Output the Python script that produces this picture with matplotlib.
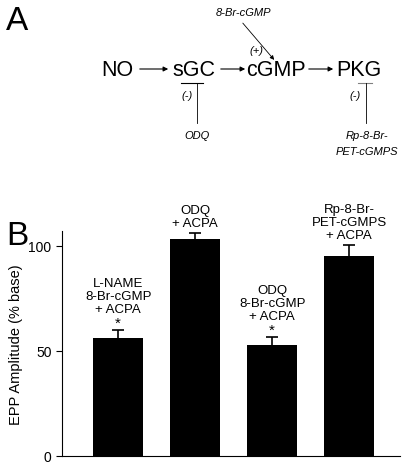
import matplotlib
matplotlib.use("Agg")
import matplotlib.pyplot as plt

plt.rcParams['font.family'] = ['Liberation Sans', 'DejaVu Sans']

labels = ["L-NAME\n8-Br-cGMP\n+ ACPA", "ODQ\n+ ACPA", "ODQ\n8-Br-cGMP\n+ ACPA", "Rp-8-Br-\nPET-cGMPS\n+ ACPA"]
values = [56, 103, 53, 95]
errors = [4, 3, 3.5, 5.5]
stars = [True, False, True, False]
yticks = [0, 50, 100]

fig = plt.figure(figsize=(4.13, 4.64), dpi=100)
ax = fig.add_axes([62/413, 7/464, 338/413, 225/464])
x = [1, 2, 3, 4]
ax.bar(x, values, width=0.65, color='black', yerr=errors,
       error_kw=dict(ecolor='black', elinewidth=1.2, capsize=4, capthick=1.2))
ax.set_xlim(0.27, 0.27 + 338/77)
ax.set_ylim(0, 107)
ax.set_yticks(yticks)
ax.tick_params(axis='y', labelsize=10, length=4)
ax.set_xticks([])
ax.spines['top'].set_visible(False)
ax.spines['right'].set_visible(False)
ax.set_ylabel("EPP Amplitude (% base)", fontsize=10.5)
for xi, v, e, lab, s in zip(x, values, errors, labels, stars):
    off = 3
    if s:
        ax.annotate("*", (xi, v + e), xytext=(0, 0), textcoords='offset points',
                    ha='center', va='bottom', fontsize=11)
        off = 11
    ax.annotate(lab, (xi, v + e), xytext=(0, off), textcoords='offset points',
                ha='center', va='bottom', fontsize=9.5, linespacing=1.1,
                annotation_clip=False)

# diagram overlay in pixel coords
d = fig.add_axes([0, 0, 1, 1], facecolor='none')
d.set_xlim(0, 413); d.set_ylim(464, 0); d.axis('off')
d.text(6, 22, "A", fontsize=24, va='center', ha='left')
d.text(6, 237, "B", fontsize=24, va='center', ha='left')
for t, cx in [("NO", 117), ("sGC", 194), ("cGMP", 276), ("PKG", 359)]:
    d.text(cx, 70, t, fontsize=15.5, ha='center', va='center')
for x0, x1 in [(137, 171), (218, 248), (306, 336)]:
    d.annotate("", (x1, 70), (x0, 70),
               arrowprops=dict(arrowstyle='-|>', color='black', lw=0.8, mutation_scale=7))
d.text(243, 13, "8-Br-cGMP", fontsize=8, style='italic', ha='center', va='center')
d.annotate("", (276, 63), (241, 22),
           arrowprops=dict(arrowstyle='-|>', color='black', lw=0.6, mutation_scale=6))
d.text(256, 51, "(+)", fontsize=8, style='italic', ha='center', va='center')
d.plot([181, 203], [84, 84], color='black', lw=0.8)
d.plot([197, 197], [84, 124], color='black', lw=0.6)
d.text(187, 96, "(-)", fontsize=8, style='italic', ha='center', va='center')
d.text(197, 136, "ODQ", fontsize=8, style='italic', ha='center', va='center')
d.plot([358, 372], [84, 84], color='gray', lw=0.8)
d.plot([366, 366], [84, 124], color='black', lw=0.6)
d.text(355, 96, "(-)", fontsize=8, style='italic', ha='center', va='center')
d.text(367, 136, "Rp-8-Br-", fontsize=8, style='italic', ha='center', va='center')
d.text(367, 152, "PET-cGMPS", fontsize=8, style='italic', ha='center', va='center')

fig.savefig("out.png", dpi=100)
